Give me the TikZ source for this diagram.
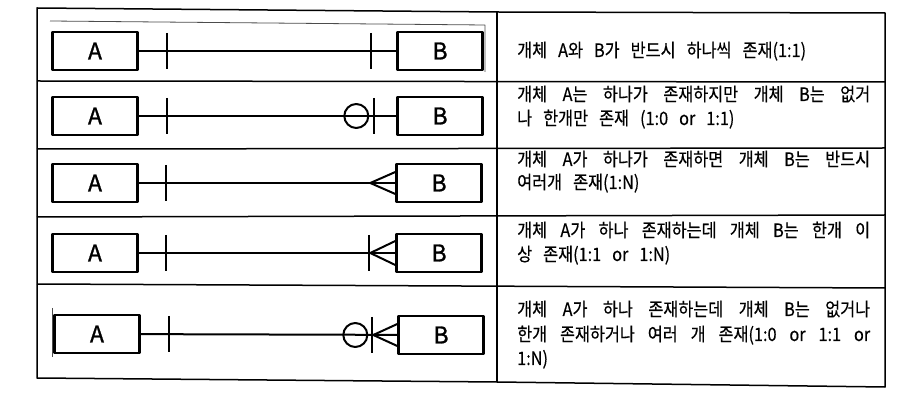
\documentclass[tikz,border=0pt]{standalone}
\usepackage{fontspec}
\newfontfamily\kr[FakeBold=0.4,FakeStretch=0.88]{Noto Sans CJK KR}
\newfontfamily\krb[FakeBold=1.2]{Noto Sans CJK KR}
\usetikzlibrary{calc}
\newcommand\krtext{\kr\fontsize{18.5}{24}\selectfont\spaceskip=11pt plus 30pt minus 5pt\relax}
\newcommand\krbox{\krb\fontsize{23}{23}\selectfont}
\begin{document}
\begin{tikzpicture}[x=1pt,y=-1pt,line join=round,
  ent/.style={draw,line width=2.4pt,minimum width=85pt,minimum height=38pt,inner sep=0pt,font=\krbox},
  rel/.style={line width=2pt},
  grid/.style={line width=1.5pt},
  faint/.style={line width=0.8pt,black!70},
  txt/.style={anchor=base west,inner sep=0pt,font=\krtext}]
\useasboundingbox[fill=white] (0,0) rectangle (918,411);
% table
\draw[grid] (37,8) -- (497,12) -- (885,13) -- (885,387) -- (497,382) -- (37,378) -- cycle;
\draw[grid] (497,12) -- (497,382);
\draw[grid] (37,81) -- (885,82);
\draw[grid] (37,149) -- (885,148);
\draw[grid] (37,217) -- (885,215);
\draw[grid] (37,284) -- (885,288);
\draw[faint] (50,21) -- (485,25) -- (485,72);
\draw[faint] (52,308) -- (52,357);
% row 1
\node[ent] (a1) at (95,51) {A};
\node[ent] (b1) at (440,51) {B};
\draw[rel] (a1) -- (b1);
\draw[rel] ($(a1.east)+(28,-18)$) -- ++(0,36);
\draw[rel] ($(b1.west)+(-25,-18)$) -- ++(0,36);
% row 2
\node[ent] (a2) at (95,116) {A};
\node[ent] (b2) at (440,116) {B};
\draw[rel] (a2) -- (b2);
\draw[rel] ($(a2.east)+(28,-18)$) -- ++(0,36);
\draw[rel] ($(b2.west)+(-40,0)$) circle (12pt);
\draw[rel] ($(b2.west)+(-22,-18)$) -- ++(0,36);
% row 3
\node[ent] (a3) at (95,183) {A};
\node[ent] (b3) at (439,183) {B};
\draw[rel] (a3) -- (b3);
\draw[rel] ($(a3.east)+(27,-18)$) -- ++(0,36);
\draw[rel] ($(b3.west)+(-25,0)$) -- ($(b3.west)+(0,-11)$);
\draw[rel] ($(b3.west)+(-25,0)$) -- ($(b3.west)+(0,11)$);
% row 4
\node[ent] (a4) at (95,253) {A};
\node[ent] (b4) at (439,253) {B};
\draw[rel] (a4) -- (b4);
\draw[rel] ($(a4.east)+(27,-18)$) -- ++(0,36);
\draw[rel] ($(b4.west)+(-26,-18)$) -- ++(0,36);
\draw[rel] ($(b4.west)+(-25,0)$) -- ($(b4.west)+(0,-12)$);
\draw[rel] ($(b4.west)+(-25,0)$) -- ($(b4.west)+(0,12)$);
% row 5
\node[ent] (a5) at (97,334) {A};
\node[ent] (b5) at (441,335) {B};
\draw[rel] (a5) -- (b5);
\draw[rel] ($(a5.east)+(28,-18)$) -- ++(0,36);
\draw[rel] ($(b5.west)+(-42,0)$) circle (12pt);
\draw[rel] ($(b5.west)+(-25,-18)$) -- ++(0,36);
\draw[rel] ($(b5.west)+(-24,0)$) -- ($(b5.west)+(0,-11)$);
\draw[rel] ($(b5.west)+(-24,0)$) -- ($(b5.west)+(0,11)$);
% texts
\node[txt] (t1) at (517,57) {개체 A와 B가 반드시 하나씩 존재(1:1)};
\node[txt] (t2a) at (517,101) {\makebox[353pt][s]{개체 A는 하나가 존재하지만 개체 B는 없거}};
\node[txt] (t2b) at (517,125) {나 한개만 존재 (1:0 or 1:1)};
\node[txt] (t3a) at (517,166) {\makebox[353pt][s]{개체 A가 하나가 존재하면 개체 B는 반드시}};
\node[txt] (t3b) at (517,189) {여러개 존재(1:N)};
\node[txt] (t4a) at (517,237) {\makebox[353pt][s]{개체 A가 하나 존재하는데 개체 B는 한개 이}};
\node[txt] (t4b) at (517,261) {상 존재(1:1 or 1:N)};
\node[txt] (t5a) at (517,316) {\makebox[353pt][s]{개체 A가 하나 존재하는데 개체 B는 없거나}};
\node[txt] (t5b) at (517,341) {\makebox[353pt][s]{한개 존재하거나 여러 개 존재(1:0 or 1:1 or}};
\node[txt] (t5c) at (517,365) {1:N)};
\end{tikzpicture}
\end{document}
